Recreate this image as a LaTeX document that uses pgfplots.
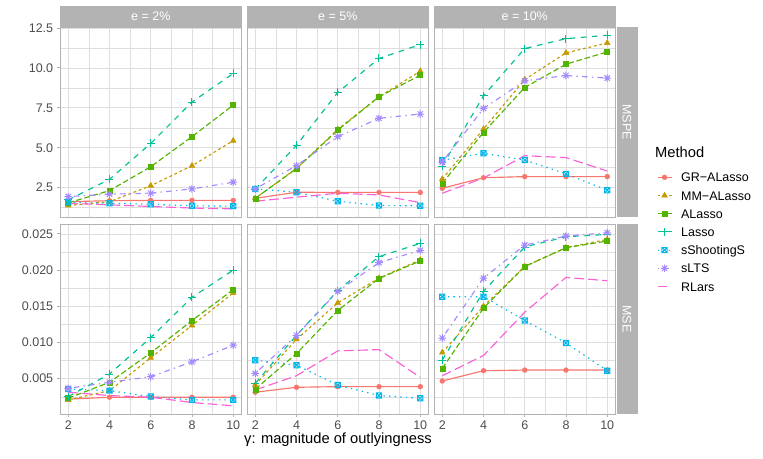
\documentclass[border=0pt]{standalone}
\usepackage{fontspec}
\setmainfont{Liberation Sans}
\usepackage{pgfplots}
\usepackage{pgfplotstable}
\pgfplotsset{compat=1.18}
\definecolor{cGR}{HTML}{F8766D}
\definecolor{cMM}{HTML}{C49A00}
\definecolor{cAL}{HTML}{53B400}
\definecolor{cLA}{HTML}{00C094}
\definecolor{cSS}{HTML}{00B6EB}
\definecolor{cSL}{HTML}{A58AFF}
\definecolor{cRL}{HTML}{FB61D7}
\definecolor{grey70}{HTML}{B3B3B3}
\definecolor{grey87}{HTML}{DEDEDE}
\definecolor{grey30}{HTML}{4D4D4D}

\pgfdeclareplotmark{sqx}{%
  \pgfpathrectangle{\pgfqpoint{-\pgfplotmarksize}{-\pgfplotmarksize}}{\pgfqpoint{2\pgfplotmarksize}{2\pgfplotmarksize}}%
  \pgfpathmoveto{\pgfqpoint{-\pgfplotmarksize}{-\pgfplotmarksize}}\pgfpathlineto{\pgfqpoint{\pgfplotmarksize}{\pgfplotmarksize}}%
  \pgfpathmoveto{\pgfqpoint{-\pgfplotmarksize}{\pgfplotmarksize}}\pgfpathlineto{\pgfqpoint{\pgfplotmarksize}{-\pgfplotmarksize}}%
  \pgfusepathqstroke}
\pgfdeclareplotmark{ast8}{%
  \pgfpathmoveto{\pgfqpoint{-\pgfplotmarksize}{0pt}}\pgfpathlineto{\pgfqpoint{\pgfplotmarksize}{0pt}}%
  \pgfpathmoveto{\pgfqpoint{0pt}{-\pgfplotmarksize}}\pgfpathlineto{\pgfqpoint{0pt}{\pgfplotmarksize}}%
  \pgfpathmoveto{\pgfqpoint{-0.707\pgfplotmarksize}{-0.707\pgfplotmarksize}}\pgfpathlineto{\pgfqpoint{0.707\pgfplotmarksize}{0.707\pgfplotmarksize}}%
  \pgfpathmoveto{\pgfqpoint{-0.707\pgfplotmarksize}{0.707\pgfplotmarksize}}\pgfpathlineto{\pgfqpoint{0.707\pgfplotmarksize}{-0.707\pgfplotmarksize}}%
  \pgfusepathqstroke}

\pgfplotsset{
  sGR/.style={cGR, line width=1.15pt, solid, mark=*, mark size=2.4pt, mark options={solid, line width=0.5pt}},
  sMM/.style={cMM, line width=1.15pt, dash pattern=on 2.8pt off 2.8pt, mark=triangle*, mark size=3.3pt, mark options={solid, line width=0.5pt}},
  sAL/.style={cAL, line width=1.15pt, dash pattern=on 5.6pt off 2.8pt, mark=square*, mark size=2.5pt, mark options={solid, line width=0.5pt}},
  sLA/.style={cLA, line width=1.15pt, dash pattern=on 5.6pt off 5.6pt, mark=+, mark size=4pt, mark options={solid, line width=1pt}},
  sSS/.style={cSS, line width=1.15pt, dash pattern=on 1.4pt off 4.2pt, mark=sqx, mark size=2.6pt, mark options={solid, line width=1pt}},
  sSL/.style={cSL, line width=1.15pt, dash pattern=on 1.4pt off 4.2pt on 5.6pt off 4.2pt, mark=ast8, mark size=3.8pt, mark options={solid, line width=1pt}},
  sRL/.style={cRL, line width=1.15pt, dash pattern=on 9.8pt off 4.2pt, no marks},
  legend image code/.code={\draw[mark repeat=2,mark phase=2,#1] plot coordinates {(0pt,0pt) (7pt,0pt) (14pt,0pt)};},
  panel/.style={scale only axis, width=181.5pt, height=190pt, anchor=north west,
    xmin=1.6, xmax=10.4, xtick={2,4,6,8,10}, minor xtick={3,5,7,9},
    grid=both, major grid style={grey87, line width=0.7pt}, minor grid style={grey87, line width=0.4pt},
    axis line style={grey70, line width=0.9pt}, tick style={grey70, line width=0.9pt},
    major tick length=3.3pt, minor tick length=0pt, tick align=outside, tick pos=left,
    ticklabel style={font=\fontsize{12.5}{14}\selectfont, text=grey30},
    /pgf/number format/assume math mode=true, scaled y ticks=false},
  row1/.style={ymin=0.66, ymax=12.56, ytick={2.5,5,7.5,10,12.5}, minor ytick={1.25,3.75,6.25,8.75,11.25},
    yticklabels={2.5,5.0,7.5,10.0,12.5}, xticklabels={}, xtick style={draw=none}},
  row2/.style={ymin=0.00012, ymax=0.02637, ytick={0.005,0.01,0.015,0.02,0.025}, minor ytick={0.0025,0.0075,0.0125,0.0175,0.0225},
    yticklabels={0.005,0.010,0.015,0.020,0.025}, xticklabels={2,4,6,8,10}},
  inner/.style={yticklabels={}, ytick style={draw=none}},
}

\newcommand{\allplots}[1]{%
  \addplot[sGR] table[x=x,y=GR]{#1};
  \addplot[sMM] table[x=x,y=MM]{#1};
  \addplot[sAL] table[x=x,y=AL]{#1};
  \addplot[sLA] table[x=x,y=LA]{#1};
  \addplot[sSS] table[x=x,y=SS]{#1};
  \addplot[sSL] table[x=x,y=SL]{#1};
  \addplot[sRL] table[x=x,y=RL]{#1};
}

\pgfplotstableread{
x GR MM AL LA SS SL RL
2 1.62 1.38 1.55 1.73 1.58 1.94 1.52
4 1.68 1.62 2.31 3.02 1.52 2.09 1.42
6 1.70 2.62 3.81 5.27 1.46 2.15 1.32
8 1.70 3.87 5.69 7.86 1.36 2.42 1.22
10 1.70 5.44 7.67 9.65 1.34 2.84 1.17
}\tA
\pgfplotstableread{
x GR MM AL LA SS SL RL
2 1.83 1.83 1.83 2.40 2.42 2.42 1.65
4 2.21 3.71 3.69 5.15 2.21 3.88 1.90
6 2.20 6.15 6.10 8.46 1.65 5.69 2.15
8 2.20 8.19 8.19 10.59 1.38 6.84 2.04
10 2.20 9.79 9.54 11.46 1.36 7.11 1.56
}\tB
\pgfplotstableread{
x GR MM AL LA SS SL RL
2 2.46 3.03 2.77 3.85 4.22 4.10 2.15
4 3.12 6.17 5.96 8.25 4.65 7.46 3.10
6 3.19 9.27 8.77 11.21 4.23 9.19 4.50
8 3.19 10.94 10.23 11.83 3.36 9.52 4.38
10 3.19 11.56 11.00 12.04 2.34 9.36 3.54
}\tC
\pgfplotstableread{
x GR MM AL LA SS SL RL
2 0.00217 0.00207 0.0023 0.00253 0.00358 0.00367 0.00313
4 0.00244 0.00335 0.0045 0.00564 0.00335 0.0045 0.00267
6 0.00244 0.00788 0.00856 0.01067 0.00253 0.00527 0.00244
8 0.00244 0.01236 0.01304 0.01624 0.00207 0.00733 0.00171
10 0.00244 0.01684 0.0173 0.0200 0.00207 0.00962 0.00125
}\tD
\pgfplotstableread{
x GR MM AL LA SS SL RL
2 0.00313 0.00413 0.00354 0.00436 0.00756 0.00573 0.00345
4 0.00381 0.01044 0.00847 0.01099 0.00687 0.0110 0.00541
6 0.0039 0.01547 0.01442 0.01716 0.00413 0.01707 0.00884
8 0.0039 0.01889 0.01885 0.02186 0.00267 0.02104 0.00902
10 0.0039 0.02141 0.02127 0.02369 0.0023 0.02273 0.00518
}\tE
\pgfplotstableread{
x GR MM AL LA SS SL RL
2 0.00468 0.00861 0.00642 0.00756 0.01633 0.01062 0.00541
4 0.0061 0.01501 0.01474 0.01707 0.01633 0.01889 0.0082
6 0.00619 0.0205 0.0205 0.02319 0.01304 0.02346 0.01419
8 0.00619 0.0231 0.0231 0.02461 0.00994 0.0247 0.01899
10 0.00619 0.02424 0.02401 0.02493 0.0061 0.02516 0.01853
}\tF

\begin{document}
\begin{tikzpicture}
\useasboundingbox (0,0) rectangle (763pt,-458pt);
% strips
\fill[grey70] (60pt,-6pt) rectangle (241.5pt,-27pt);
\fill[grey70] (247pt,-6pt) rectangle (428.5pt,-27pt);
\fill[grey70] (434pt,-6pt) rectangle (615.5pt,-27pt);
\fill[grey70] (616.5pt,-27pt) rectangle (637.5pt,-217pt);
\fill[grey70] (616.5pt,-224pt) rectangle (637.5pt,-414pt);
\begin{scope}[every node/.style={text=white, font=\fontsize{12.5}{14}\selectfont}]
\node at (150.75pt,-16.5pt) {e = 2\%};
\node at (337.75pt,-16.5pt) {e = 5\%};
\node at (524.75pt,-16.5pt) {e = 10\%};
\node[rotate=-90] at (627pt,-122pt) {MSPE};
\node[rotate=-90] at (627pt,-319pt) {MSE};
\end{scope}

\begin{axis}[panel, row1, at={(60pt,-27pt)}]
\allplots{\tA}
\end{axis}
\begin{axis}[panel, row1, inner, at={(247pt,-27pt)}]
\allplots{\tB}
\end{axis}
\begin{axis}[panel, row1, inner, at={(434pt,-27pt)}]
\allplots{\tC}
\end{axis}
\begin{axis}[panel, row2, at={(60pt,-224pt)}]
\allplots{\tD}
\end{axis}
\begin{axis}[panel, row2, inner, at={(247pt,-224pt)}]
\allplots{\tE}
\end{axis}
\begin{axis}[panel, row2, inner, at={(434pt,-224pt)},
  legend style={at={(1.2287,1.2937)}, anchor=north west, draw=none, fill=none, inner sep=0pt, outer sep=0pt,
    row sep=0pt, column sep=9pt, font=\fontsize{12.5}{14}\selectfont,
    nodes={inner xsep=0pt, inner ysep=3.6pt, text height=10pt, text depth=1pt}},
  legend cell align=left]
\allplots{\tF}
\legend{GR−ALasso, MM−ALasso, ALasso, Lasso, sShootingS, sLTS, RLars}
\end{axis}

\node[anchor=west, inner sep=0pt, font=\fontsize{14.7}{17}\selectfont] at (655pt,-152pt) {Method};
\node[font=\fontsize{14.7}{17}\selectfont] at (338pt,-440pt) {γ: magnitude of outlyingness};
\end{tikzpicture}
\end{document}
